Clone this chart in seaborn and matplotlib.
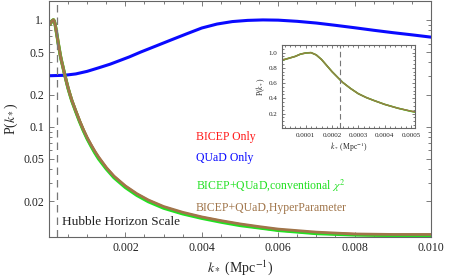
import numpy as np
import pandas as pd
import matplotlib
matplotlib.use("Agg")
import matplotlib.pyplot as plt
from matplotlib.ticker import FixedLocator, MultipleLocator, NullFormatter
import seaborn as sns

# ── Data ──────────────────────────────────────────────────────────────────────
k_joint = [0, 0.00002, 0.00004, 0.00006, 0.00008, 0.0001, 0.00012, 0.00014,
           0.00016, 0.00018, 0.0002, 0.00022, 0.00024, 0.00027, 0.0003,
           0.00033, 0.00036, 0.0004, 0.00045, 0.0005, 0.00055, 0.0006,
           0.0007, 0.0008, 0.0009, 0.001, 0.0011, 0.0012, 0.0013, 0.0015,
           0.0017, 0.002, 0.0023, 0.0026, 0.003, 0.0035, 0.004, 0.0045,
           0.005, 0.0055, 0.006, 0.007, 0.008, 0.009, 0.010]
p_bicep = [0.90, 0.91, 0.93, 0.95, 0.98, 0.995, 1.0, 0.97,
           0.91, 0.83, 0.75, 0.68, 0.61, 0.53, 0.46,
           0.41, 0.37, 0.32, 0.27, 0.23, 0.20, 0.175,
           0.14, 0.113, 0.093, 0.078, 0.067, 0.058, 0.051, 0.041,
           0.034, 0.0275, 0.0232, 0.0203, 0.0176, 0.0155, 0.0141, 0.0130,
           0.0121, 0.0114, 0.0108, 0.0101, 0.0098, 0.0096, 0.0096]
p_conv = [0.90, 0.91, 0.93, 0.95, 0.98, 0.995, 1.0, 0.97,
          0.91, 0.83, 0.75, 0.68, 0.61, 0.53, 0.46,
          0.41, 0.37, 0.32, 0.27, 0.229, 0.199, 0.174,
          0.139, 0.112, 0.092, 0.077, 0.066, 0.057, 0.050, 0.0403,
          0.0334, 0.0270, 0.0228, 0.0199, 0.0173, 0.0153, 0.0139, 0.0128,
          0.0119, 0.0113, 0.0107, 0.0100, 0.0097, 0.0096, 0.0096]
p_hyper = [0.90, 0.91, 0.93, 0.95, 0.98, 0.995, 1.0, 0.97,
           0.91, 0.83, 0.75, 0.68, 0.61, 0.53, 0.46,
           0.41, 0.37, 0.32, 0.27, 0.231, 0.201, 0.176,
           0.141, 0.114, 0.094, 0.079, 0.068, 0.059, 0.052, 0.0415,
           0.0345, 0.0279, 0.0236, 0.0206, 0.0179, 0.0158, 0.0143, 0.0132,
           0.0123, 0.0116, 0.0110, 0.0103, 0.0099, 0.0098, 0.0098]

k_quad = [0, 0.0004, 0.0007, 0.001, 0.0013, 0.0016, 0.0021, 0.0024, 0.0028,
          0.0032, 0.0036, 0.004, 0.0044, 0.0048, 0.0052, 0.0056, 0.006,
          0.0065, 0.007, 0.0075, 0.008, 0.0085, 0.009, 0.0095, 0.010]
p_quad = [0.300, 0.303, 0.312, 0.330, 0.356, 0.385, 0.45, 0.50, 0.57,
          0.65, 0.74, 0.84, 0.915, 0.965, 0.99, 1.0, 0.995,
          0.97, 0.935, 0.89, 0.845, 0.80, 0.76, 0.725, 0.69]

k_horizon = 0.00021

series_names = ["BICEP Only", "QUaD Only",
                r"BICEP+QUaD,conventional $\chi^2$",
                "BICEP+QUaD,HyperParameter"]
series_colors = ["#ff1a1a", "#0a0aff", "#22e022", "#a0754a"]

yticks = [0.02, 0.05, 0.1, 0.2, 0.5, 1.0]
ytick_labels = ["0.02", "0.05", "0.1", "0.2", "0.5", "1."]
xticks = [0.002, 0.004, 0.006, 0.008, 0.010]
xtick_labels = ["0.002", "0.004", "0.006", "0.008", "0.010"]
inset_xticks = [0.0001, 0.0002, 0.0003, 0.0004, 0.0005]
inset_yticks = [0.2, 0.4, 0.6, 0.8, 1.0]

df = pd.concat([
    pd.DataFrame({"k": k_joint, "P": p_bicep, "s": series_names[0]}),
    pd.DataFrame({"k": k_quad, "P": p_quad, "s": series_names[1]}),
    pd.DataFrame({"k": k_joint, "P": p_conv, "s": series_names[2]}),
    pd.DataFrame({"k": k_joint, "P": p_hyper, "s": series_names[3]}),
])

# ── Style ─────────────────────────────────────────────────────────────────────
sns.set_theme(style="ticks")
plt.rcParams["font.family"] = ["Liberation Serif", "DejaVu Serif"]
plt.rcParams["mathtext.fontset"] = "stix"
plt.rcParams["axes.edgecolor"] = "#666666"
plt.rcParams["axes.linewidth"] = 0.8
plt.rcParams["xtick.color"] = "#666666"
plt.rcParams["ytick.color"] = "#666666"
plt.rcParams["xtick.labelcolor"] = "#222222"
plt.rcParams["ytick.labelcolor"] = "#222222"


def frame_ticks(ax, major=3.5, minor=2):
    ax.tick_params(which="both", direction="in", top=True, right=True, width=0.6)
    ax.tick_params(which="major", length=major)
    ax.tick_params(which="minor", length=minor)


fig = plt.figure(figsize=(4.71, 2.79), dpi=100)
ax = fig.add_axes([0.104, 0.151, 0.811, 0.845])

# draw order: red, blue, green, brown on top
for name, color, lw in zip(series_names, series_colors, [2.2, 2.2, 2.4, 2.0]):
    sns.lineplot(data=df[df["s"] == name], x="k", y="P", color=color,
                 linewidth=lw, ax=ax, sort=True, legend=False)

ax.axvline(k_horizon, color="#777777", linestyle=(0, (6, 4)), linewidth=0.9)
ax.set_yscale("log")
ax.set_xlim(0, 0.010)
ax.set_ylim(0.0093, 1.5)
ax.yaxis.set_major_locator(FixedLocator(yticks))
ax.set_yticklabels(ytick_labels)
ax.yaxis.set_minor_formatter(NullFormatter())
ax.set_xticks(xticks)
ax.set_xticklabels(xtick_labels)
ax.xaxis.set_minor_locator(MultipleLocator(0.0005))
ax.tick_params(labelsize=8.5)
frame_ticks(ax)
ax.set_xlabel(r"$k_*$ (Mpc$^{-1}$)", fontsize=10, labelpad=3)
ax.set_ylabel(r"P($k_*$)", fontsize=10, labelpad=2)

ax.text(0.00035, 0.0129, "Hubble Horizon Scale", fontsize=9.5, color="#222222",
        va="center", ha="left")

# coloured text legend
label_y = [137, 158, 185, 208]
for name, color, y in zip(series_names, series_colors, label_y):
    fig.text(196 / 471, 1 - y / 279, name, color=color, fontsize=8.5,
             va="center", ha="left")

# ── Inset ─────────────────────────────────────────────────────────────────────
axin = fig.add_axes([282 / 471, 1 - 128 / 279, 133 / 471, 83 / 279])
for name, color, lw in zip([series_names[0], series_names[2], series_names[3]],
                           [series_colors[0], series_colors[2], series_colors[3]],
                           [1.0, 1.2, 0.9]):
    sub = df[(df["s"] == name) & (df["k"] <= 0.0006)]
    sns.lineplot(data=sub, x="k", y="P", color=color, linewidth=lw, ax=axin,
                 legend=False)
axin.axvline(k_horizon + 0.00002, color="#777777", linestyle=(0, (5, 3)), linewidth=0.8)
axin.set_xlim(0.00001, 0.000515)
axin.set_ylim(0.01, 1.1)
axin.set_xticks(inset_xticks)
axin.set_xticklabels(["0.0001", "0.0002", "0.0003", "0.0004", "0.0005"])
axin.set_yticks(inset_yticks)
axin.set_yticklabels(["0.2", "0.4", "0.6", "0.8", "1.0"])
axin.xaxis.set_minor_locator(MultipleLocator(0.00002))
axin.yaxis.set_minor_locator(MultipleLocator(0.05))
axin.tick_params(labelsize=5)
frame_ticks(axin, major=2.5, minor=1.2)
axin.set_xlabel(r"$k_*$ (Mpc$^{-1}$)", fontsize=5.5, labelpad=2)
axin.set_ylabel(r"P($k_*$)", fontsize=5.5, labelpad=1)

fig.savefig("out.png", dpi=100)
